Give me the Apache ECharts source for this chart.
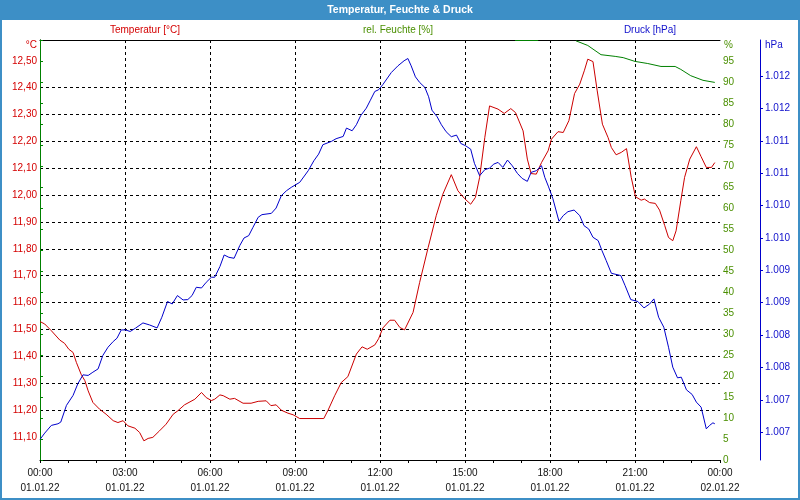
<!DOCTYPE html>
<html>
<head>
<meta charset="utf-8">
<script src="https://cdn.jsdelivr.net/npm/echarts@6/dist/echarts.min.js"></script>
<style>html,body{margin:0;padding:0;background:#fff}#c{width:800px;height:500px}</style>
</head>
<body>
<div id="c"></div>
<script>
// ---- data (minutes since 01.01.22 00:00) ----
const tempTimes = [0,10,24,42,52,61,70,77,87,95,102,112,126,140,155,165,176,186,201,211,220,229,239,253,267,282,292,306,328,342,352,363,370,381,388,402,412,430,447,462,479,489,500,511,525,536,550,601,610,624,638,652,670,682,693,709,717,726,741,751,762,772,790,804,822,839,853,871,885,899,912,922,931,942,952,970,983,997,1007,1023,1032,1040,1051,1062,1076,1083,1097,1108,1120,1132,1143,1153,1160,1171,1180,1191,1203,1210,1220,1231,1242,1252,1261,1273,1280,1291,1303,1312,1323,1331,1340,1347,1357,1365,1376,1390,1400,1411,1422,1429];
const tempValues = [11.529,11.52,11.495,11.46,11.448,11.426,11.414,11.377,11.333,11.309,11.271,11.228,11.203,11.184,11.16,11.153,11.16,11.141,11.132,11.116,11.085,11.094,11.098,11.122,11.147,11.184,11.197,11.219,11.24,11.265,11.246,11.235,11.24,11.256,11.253,11.24,11.243,11.225,11.225,11.232,11.234,11.216,11.219,11.199,11.188,11.182,11.168,11.168,11.199,11.253,11.302,11.324,11.408,11.435,11.426,11.442,11.465,11.505,11.534,11.534,11.507,11.498,11.563,11.675,11.805,11.923,12.003,12.076,12.016,11.987,11.966,11.991,12.066,12.215,12.332,12.32,12.304,12.322,12.307,12.239,12.134,12.08,12.078,12.121,12.165,12.208,12.236,12.233,12.277,12.378,12.413,12.465,12.506,12.497,12.388,12.264,12.214,12.177,12.15,12.159,12.173,12.066,11.994,11.981,11.985,11.972,11.969,11.944,11.886,11.842,11.83,11.867,11.979,12.066,12.134,12.18,12.143,12.103,12.103,12.121];

const humTimes = [1006,1055,1095,1135,1160,1188,1218,1235,1260,1287,1315,1345,1357,1378,1404,1429];
const humValues = [99.88,99.88,null,99.8,98.7,96.5,96.1,95.8,94.9,94.4,93.7,93.7,93.0,91.5,90.4,89.9];

const pressTimes = [0,10,24,38,44,56,70,80,91,102,112,123,133,144,155,163,172,181,191,202,218,232,248,258,270,280,291,303,313,322,331,342,352,363,370,381,390,400,411,423,432,442,451,462,470,490,500,511,522,532,550,568,580,590,599,617,627,642,649,661,670,679,691,699,709,717,726,744,758,771,779,786,795,804,815,823,830,841,850,860,871,882,891,901,912,920,931,942,952,961,970,980,990,1000,1011,1021,1032,1040,1051,1062,1069,1077,1086,1099,1108,1118,1131,1143,1152,1162,1171,1182,1190,1199,1210,1230,1239,1251,1266,1279,1291,1300,1310,1321,1331,1340,1350,1358,1369,1381,1390,1400,1411,1418,1425,1429];
const pressValues = [1006.389,1006.486,1006.605,1006.63,1006.656,1006.914,1007.068,1007.247,1007.386,1007.377,1007.427,1007.478,1007.685,1007.813,1007.901,1007.952,1008.08,1008.08,1008.056,1008.106,1008.188,1008.157,1008.111,1008.276,1008.519,1008.481,1008.611,1008.543,1008.549,1008.611,1008.739,1008.728,1008.816,1008.894,1008.894,1009.059,1009.238,1009.202,1009.187,1009.383,1009.5,1009.537,1009.665,1009.82,1009.861,1009.881,1009.963,1010.154,1010.231,1010.282,1010.36,1010.54,1010.694,1010.796,1010.941,1010.992,1011.034,1011.069,1011.198,1011.157,1011.25,1011.389,1011.506,1011.62,1011.764,1011.79,1011.87,1012.057,1012.16,1012.238,1012.273,1012.16,1011.99,1011.903,1011.826,1011.682,1011.475,1011.373,1011.25,1011.142,1011.065,1011.09,1010.961,1010.926,1010.873,1010.653,1010.463,1010.556,1010.58,1010.642,1010.668,1010.591,1010.704,1010.617,1010.498,1010.421,1010.375,1010.514,1010.54,1010.617,1010.437,1010.29,1010.11,1009.758,1009.846,1009.907,1009.932,1009.846,1009.691,1009.639,1009.511,1009.46,1009.306,1009.151,1008.955,1008.92,1008.765,1008.549,1008.519,1008.42,1008.481,1008.559,1008.276,1008.122,1007.813,1007.505,1007.34,1007.35,1007.154,1007.083,1006.964,1006.887,1006.552,1006.605,1006.645,1006.63];

const tempTicks = [11.1,11.2,11.3,11.4,11.5,11.6,11.7,11.8,11.9,12.0,12.1,12.2,12.3,12.4,12.5];
const pressTicks = [1006.5,1007,1007.5,1008,1008.5,1009,1009.5,1010,1010.5,1011,1011.5,1012];

const FONT = '"Liberation Sans", Arial, sans-serif';
const RED = '#cc0000', GREEN = '#008000', BLUE = '#0000cc';
const RED_T = '#d40000', GREEN_T = '#4a8f00', BLUE_T = '#1010cc';

const pair = (ts, vs) => ts.map((t, i) => [t, vs[i] === null ? '-' : vs[i]]);
const pad = n => (n < 10 ? '0' : '') + n;

const chart = echarts.init(document.getElementById('c'), null, {renderer: 'canvas'});
chart.setOption({
  animation: false,
  backgroundColor: '#ffffff',
  textStyle: {fontFamily: FONT},
  grid: {left: 40, right: 80, top: 40, bottom: 40, containLabel: false},
  xAxis: [{
    type: 'value', min: 0, max: 1440, interval: 180, position: 'bottom',
    axisLine: {show: true, onZero: false, lineStyle: {color: '#000', width: 1}},
    axisTick: {show: true, length: 3, lineStyle: {color: '#000'}},
    minorTick: {show: true, splitNumber: 3, length: 3, lineStyle: {color: '#000'}},
    splitLine: {show: true, showMinLine: false, showMaxLine: false, lineStyle: {color: '#000', type: [3, 3], width: 1}},
    axisLabel: {
      color: '#111', fontSize: 10, fontFamily: FONT, lineHeight: 15, margin: 6,
      formatter: v => pad(Math.floor(v / 60) % 24) + ':00\n' + (v >= 1440 ? '02.01.22' : '01.01.22')
    }
  }, {
    type: 'value', min: 0, max: 1440, position: 'top',
    axisLine: {show: true, onZero: false, lineStyle: {color: '#000', width: 1}},
    axisTick: {show: false}, axisLabel: {show: false}, splitLine: {show: false}
  }],
  yAxis: [{
    type: 'value', min: 11.0136, max: 12.5774, position: 'left',
    axisLine: {show: true, lineStyle: {color: '#000', width: 1}},
    axisTick: {show: false, customValues: tempTicks},
    axisLabel: {customValues: tempTicks, color: RED_T, fontSize: 10, fontFamily: FONT, margin: 3,
      formatter: v => v.toFixed(2).replace('.', ',')},
    splitLine: {show: true, showMinLine: false, showMaxLine: false, lineStyle: {color: '#000', type: [3, 3], width: 1}}
  }, {
    type: 'value', min: 0, max: 100, interval: 5, position: 'right',
    axisLine: {show: true, lineStyle: {color: GREEN, width: 1}},
    axisTick: {show: true, length: 3, lineStyle: {color: GREEN}},
    axisLabel: {color: GREEN_T, fontSize: 10, fontFamily: FONT, margin: 3,
      formatter: v => (v >= 100 ? '' : String(v))},
    splitLine: {show: false}
  }, {
    type: 'value', min: 1006.0705, max: 1012.559, position: 'right', offset: 40,
    axisLine: {show: true, lineStyle: {color: BLUE, width: 1}},
    axisTick: {show: true, length: 3, customValues: pressTicks, lineStyle: {color: BLUE}},
    axisLabel: {customValues: pressTicks, color: BLUE_T, fontSize: 10, fontFamily: FONT, margin: 5,
      formatter: v => { const r = Math.round(v); return Math.floor(r / 1000) + '.' + String(r % 1000).padStart(3, '0'); }},
    splitLine: {show: false}
  }],
  series: [{
    name: 'Temperatur [°C]', type: 'line', xAxisIndex: 0, yAxisIndex: 0,
    data: pair(tempTimes, tempValues), showSymbol: false, symbol: 'none',
    lineStyle: {color: RED, width: 1}, z: 3
  }, {
    name: 'rel. Feuchte [%]', type: 'line', xAxisIndex: 0, yAxisIndex: 1,
    data: pair(humTimes, humValues), showSymbol: false, symbol: 'none', connectNulls: false,
    lineStyle: {color: GREEN, width: 1}, z: 3
  }, {
    name: 'Druck [hPa]', type: 'line', xAxisIndex: 0, yAxisIndex: 2,
    data: pair(pressTimes, pressValues), showSymbol: false, symbol: 'none',
    lineStyle: {color: BLUE, width: 1}, z: 3
  }],
  graphic: [
    {type: 'rect', silent: true, z: -1, shape: {x: 0, y: 0, width: 800, height: 20}, style: {fill: '#3d8fc6'}},
    {type: 'rect', silent: true, z: 100, shape: {x: 1, y: 1, width: 798, height: 498}, style: {fill: 'none', stroke: '#3d8fc6', lineWidth: 2}},
    {type: 'text', silent: true, x: 400, y: 10, style: {text: 'Temperatur, Feuchte & Druck', fill: '#ffffff', font: 'bold 10.5px ' + FONT, align: 'center', verticalAlign: 'middle'}},
    {type: 'text', silent: true, x: 145, y: 30, style: {text: 'Temperatur [°C]', fill: RED_T, font: '10px ' + FONT, align: 'center', verticalAlign: 'middle'}},
    {type: 'text', silent: true, x: 398, y: 30, style: {text: 'rel. Feuchte [%]', fill: GREEN_T, font: '10px ' + FONT, align: 'center', verticalAlign: 'middle'}},
    {type: 'text', silent: true, x: 650, y: 30, style: {text: 'Druck [hPa]', fill: BLUE_T, font: '10px ' + FONT, align: 'center', verticalAlign: 'middle'}},
    {type: 'text', silent: true, x: 37, y: 45, style: {text: '°C', fill: RED_T, font: '10px ' + FONT, align: 'right', verticalAlign: 'middle'}},
    {type: 'text', silent: true, x: 724, y: 45, style: {text: '%', fill: GREEN_T, font: '10px ' + FONT, align: 'left', verticalAlign: 'middle'}},
    {type: 'text', silent: true, x: 765, y: 45, style: {text: 'hPa', fill: BLUE_T, font: '10px ' + FONT, align: 'left', verticalAlign: 'middle'}}
  ]
});
</script>
</body>
</html>
